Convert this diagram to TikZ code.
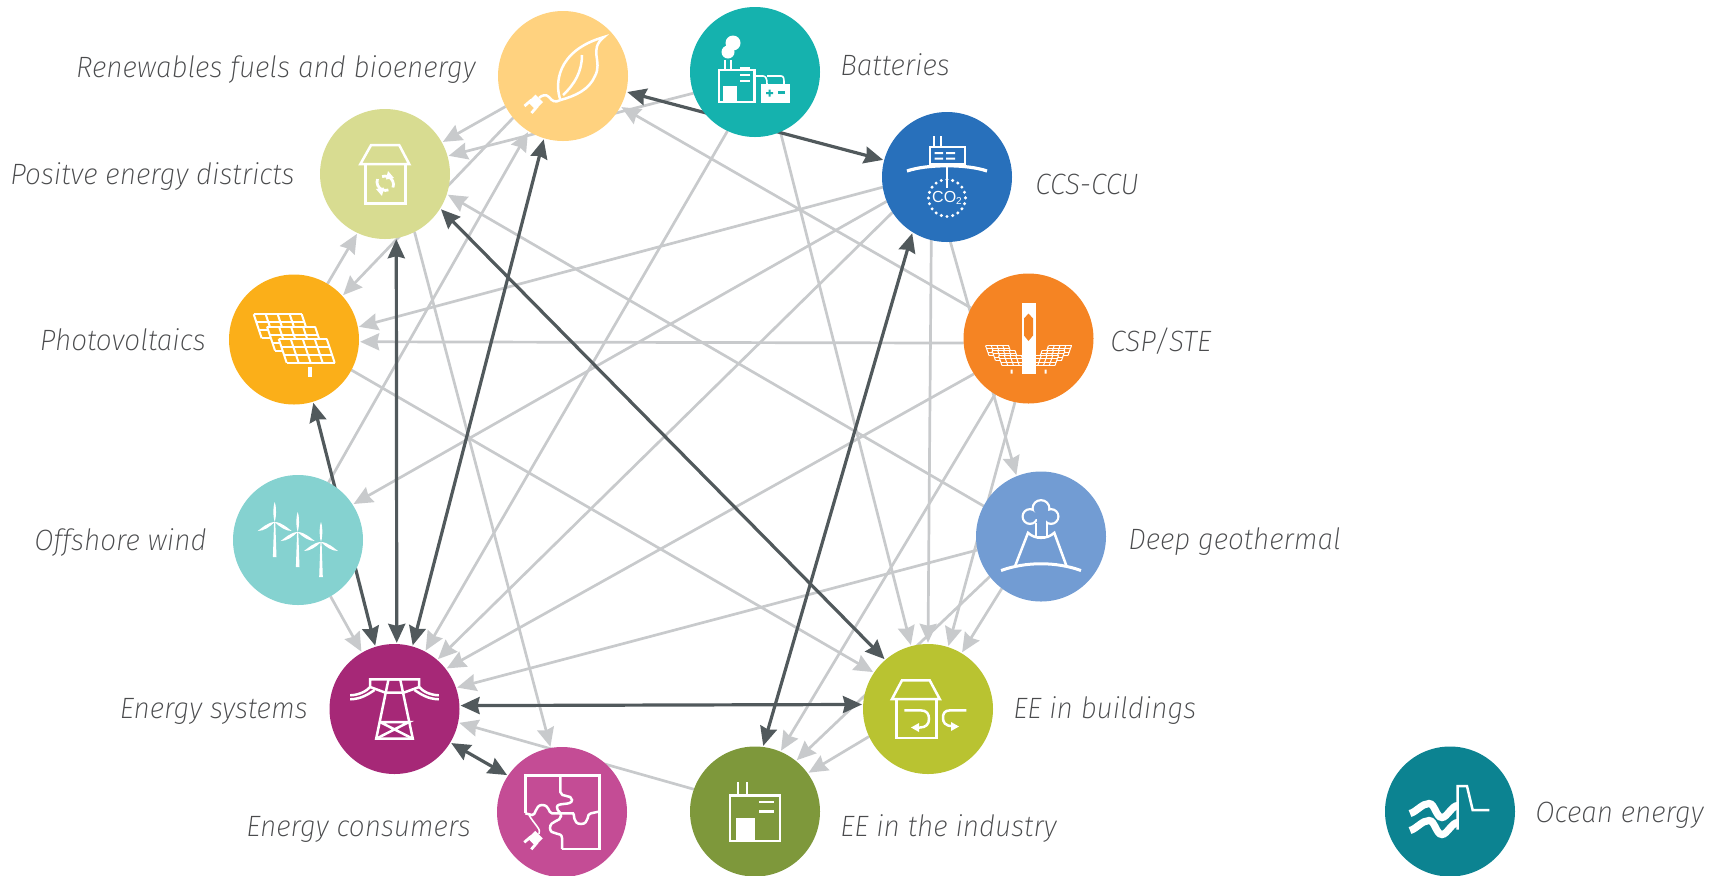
\documentclass[tikz,border=0pt]{standalone}
\usepackage{fontspec}
\usetikzlibrary{arrows.meta}
\newfontfamily\lblf[FakeStretch=0.95]{Fira Sans ExtraLight Italic}
\newfontfamily\arialf{Liberation Sans}
\definecolor{cren}{HTML}{FFD27F}
\definecolor{cbat}{HTML}{15B2AE}
\definecolor{cccs}{HTML}{2870BB}
\definecolor{ccsp}{HTML}{F58423}
\definecolor{cgeo}{HTML}{729CD3}
\definecolor{cbui}{HTML}{B9C331}
\definecolor{cind}{HTML}{7E983B}
\definecolor{ccon}{HTML}{C44C95}
\definecolor{ces}{HTML}{A62877}
\definecolor{coff}{HTML}{85D2D0}
\definecolor{cpv}{HTML}{FBAF19}
\definecolor{cpos}{HTML}{D8DC91}
\definecolor{coce}{HTML}{0C8391}
\definecolor{lngrey}{HTML}{C8CACC}
\definecolor{lndark}{HTML}{51595C}
\definecolor{txtc}{HTML}{4A4B4D}
\pgfdeclarelayer{bg}
\pgfsetlayers{bg,main}
\tikzset{
  hub/.style={circle,minimum size=65pt,inner sep=0pt,outer sep=0pt,draw=none},
  lblr/.style={anchor=east,text=txtc,inner sep=0pt,font=\lblf\fontsize{14.7}{16}\selectfont},
  lbll/.style={anchor=west,text=txtc,inner sep=0pt,font=\lblf\fontsize{14.7}{16}\selectfont},
  flow/.style={draw=lngrey,line width=1.35pt,shorten >=0.6pt,-{Stealth[length=9.5pt,width=8.5pt,inset=1pt]}},
  link/.style={draw=lndark,line width=1.6pt,shorten >=0.6pt,shorten <=0.6pt,{Stealth[length=9.5pt,width=8.5pt,inset=1pt]}-{Stealth[length=9.5pt,width=8.5pt,inset=1pt]}},
  ico/.style={draw=white,line width=1.25pt,line join=miter},
  icot/.style={draw=white,line width=0.8pt},
}
% x y w h skew fill linewidth
\newcommand{\solarpanel}[7]{%
  \fill[#6] (#1,#2) -- ({#1+#3},#2) -- ({#1+#3+#5},{#2+#4}) -- ({#1+#5},{#2+#4}) -- cycle;
  \foreach \i in {0,1,2,3,4}{\draw[white,line width=#7] ({#1+#3*\i/4},#2) -- ({#1+#3*\i/4+#5},{#2+#4});}
  \foreach \j in {0,1,2,3}{\draw[white,line width=#7] ({#1+#5*\j/3},{#2+#4*\j/3}) -- ({#1+#3+#5*\j/3},{#2+#4*\j/3});}
}
\newcommand{\windturbine}[2]{%
  \fill[white] ({#1-1.8},{#2+35}) -- ({#1-0.6},#2) -- ({#1+0.6},#2) -- ({#1+1.8},{#2+35}) -- cycle;
  \fill[white] (#1,#2) .. controls ({#1-2.4},{#2-8}) and ({#1-1},{#2-18}) .. (#1,{#2-20}) .. controls ({#1+1},{#2-18}) and ({#1+2.4},{#2-8}) .. (#1,#2) -- cycle;
  \fill[white] (#1,#2) .. controls ({#1-7},{#2+0}) and ({#1-14},{#2+7}) .. ({#1-17},{#2+9}) .. controls ({#1-11},{#2+9}) and ({#1-5},{#2+5}) .. (#1,#2) -- cycle;
  \fill[white] (#1,#2) .. controls ({#1+7},{#2+0}) and ({#1+14},{#2+7}) .. ({#1+17},{#2+9}) .. controls ({#1+11},{#2+9}) and ({#1+5},{#2+5}) .. (#1,#2) -- cycle;
}
\newcommand{\plugicon}[2]{%
  \fill[white] (#1,{#2-7.5}) -- ({#1+7.5},#2) -- (#1,{#2+7.5}) -- ({#1-7.5},#2) -- cycle;
  \draw[white,line width=1.4pt] ({#1-4},{#2-2}) -- ({#1-11},{#2+4});
  \draw[white,line width=1.4pt] ({#1+2},{#2+4}) -- ({#1-4},{#2+11});
}
\begin{document}
\begin{tikzpicture}[x=0.5pt,y=-0.5pt]
\useasboundingbox (0,0) rectangle (1725,875);
% hubs
\node[hub,fill=cren] (ren) at (563,76) {};
\node[hub,fill=cbat] (bat) at (755,72) {};
\node[hub,fill=cccs] (ccs) at (947,177) {};
\node[hub,fill=ccsp] (csp) at (1028.5,338.5) {};
\node[hub,fill=cgeo] (geo) at (1041,536.5) {};
\node[hub,fill=cbui] (bui) at (928,709) {};
\node[hub,fill=cind] (ind) at (755,811.5) {};
\node[hub,fill=ccon] (con) at (562,812) {};
\node[hub,fill=ces]  (es)  at (394.5,709) {};
\node[hub,fill=coff] (off) at (298,540) {};
\node[hub,fill=cpv]  (pv)  at (294,339.5) {};
\node[hub,fill=cpos] (pos) at (385,174) {};
\node[hub,fill=coce] (oce) at (1450,811.5) {};
% labels
\node[lblr] (tren) at (476,70) {Renewables fuels and bioenergy};
\node[lblr] (tpos) at (295,177) {Positve energy districts};
\node[lblr] (tpv)  at (206,340) {Photovoltaics};
\node[lblr] (toff) at (207,542) {Offshore wind};
\node[lblr] (tes)  at (308,711) {Energy systems};
\node[lblr] (tcon) at (471,829) {Energy consumers};
\node[lbll] (tbat) at (840,65) {Batteries};
\node[lbll] (tccs) at (1035,184) {CCS-CCU};
\node[lbll] (tcsp) at (1110,341) {CSP/STE};
\node[lbll] (tgeo) at (1128,542) {Deep geothermal};
\node[lbll] (tbui) at (1013,711) {EE in buildings};
\node[lbll] (tind) at (840,829) {EE in the industry};
\node[lbll] (toce) at (1535,815) {Ocean energy};
% connectors
\begin{pgfonlayer}{bg}
\draw[flow] (bat.-161) -- (pos.16);
\draw[flow] (bat.-115.5) -- (es.62.3);
\draw[flow] (ccs.-147) -- (es.49.5);
\draw[flow] (csp.-147.9) -- (es.38);
\draw[flow] (geo.-168) -- (es.19);
\draw[flow] (off.-60.7) -- (es.120);
\draw[flow] (ind.160) -- (es.-12.4);
\draw[flow] (pos.-63.4) -- (con.100);
\draw[flow] (ren.-152.7) -- (pos.29);
\draw[flow] (ren.-140) -- (pv.42);
\draw[flow] (pv.59) -- (pos.-115.6);
\draw[flow] (off.62) -- (ren.-122.5);
\draw[flow] (ccs.-171) -- (pv.11.5);
\draw[flow] (csp.-176.6) -- (pv.-2.5);
\draw[flow] (ccs.-158.7) -- (off.33.3);
\draw[flow] (ccs.-104) -- (bui.90);
\draw[flow] (ccs.-87.4) -- (geo.112);
\draw[flow] (bat.-67) -- (bui.105.7);
\draw[flow] (csp.152.3) -- (ren.-28.9);
\draw[flow] (geo.152.8) -- (pos.-18.9);
\draw[flow] (pv.-28.7) -- (bui.146.5);
\draw[flow] (csp.-102) -- (bui.72.6);
\draw[flow] (csp.-121.6) -- (ind.67.9);
\draw[flow] (geo.-127.5) -- (bui.59.5);
\draw[flow] (geo.-142.8) -- (ind.51.3);
\draw[flow] (bui.-155.7) -- (ind.36);
\draw[link] (ren.-14) -- (ccs.165);
\draw[link] (ren.-107.6) -- (es.74);
\draw[link] (pos.-80) -- (es.88);
\draw[link] (pos.-32.4) -- (bui.131);
\draw[link] (pv.-73) -- (es.107);
\draw[link] (ccs.-122) -- (ind.83);
\draw[link] (es.3.5) -- (bui.176.5);
\draw[link] (es.-31) -- (con.146.5);
\end{pgfonlayer}
% --- icons ---
% renewables
\begin{scope}[shift={(ren.center)}]
\draw[ico] (-2.5,24) .. controls (-8,10) and (-8,-25) .. (41,-39) .. controls (25,-26) and (40,-15) .. (32,0) .. controls (26,14) and (12,20) .. (-2.5,24);
\draw[ico] (19,-21) .. controls (19,-5) and (12,8) .. (0,19);
\draw[ico] (-2.5,24) .. controls (-8,27) and (-11,25) .. (-14,21) .. controls (-17,18) and (-21,19) .. (-24,22);
\plugicon{-27.5}{26}
\end{scope}
% batteries
\begin{scope}[shift={(bat.center)}]
\draw[ico] (-36,-2) rectangle (-0.5,30);
\fill[white] (-32,14) rectangle (-18,30);
\fill[white] (-15.5,-5) rectangle (-5,-3);
\fill[white] (-15.5,8) rectangle (-5,10);
\fill[white] (-15.5,1.5) rectangle (-5,3.5);
\draw[ico] (-30,-12) -- (-30,-2) (-24,-12) -- (-24,-2);
\fill[white] (-22,-29) circle (7.5);
\fill[white] (-27,-20) circle (6.5);
\fill[white] (6,12) rectangle (35,31);
\draw[icot] (0,4) -- (8,4) .. controls (11,4) and (12,7) .. (12,12);
\draw[icot] (12,4) -- (26,4) .. controls (29,4) and (29,7) .. (29,12);
\fill[cbat] (11,20.2) rectangle (18,22.2) (13.5,17.7) rectangle (15.5,24.7);
\fill[cbat] (23,19) rectangle (30,21.5);
\end{scope}
% ccs
\begin{scope}[shift={(ccs.center)}]
\draw[ico] (-17,-13) rectangle (18,-30);
\draw[ico] (-13,-30) -- (-13,-41) (-6,-30) -- (-6,-41);
\fill[white] (-12.5,-25) rectangle (-4,-23) (-1,-25) rectangle (8,-23);
\fill[white] (-12.5,-19.5) rectangle (-4,-17.5) (-1,-19.5) rectangle (8,-17.5);
\draw[white,line width=1.6pt] (-40,-6) .. controls (-20,-13) and (20,-13) .. (40,-6);
\draw[icot] (0,-12) -- (0,11);
\draw[white,line width=1.7pt,line cap=round,dash pattern=on 0pt off 2.9pt] (0,21) circle (18.5);
\node[text=white,inner sep=0pt,font=\arialf\fontsize{8}{8}\selectfont] (co2) at (0,21) {CO\raisebox{-0.25ex}{\fontsize{5}{5}\selectfont 2}};
\end{scope}
% csp
\begin{scope}[shift={(csp.center)}]
\solarpanel{-43}{7}{23}{10}{3.5}{ccsp}{0.5pt}
\solarpanel{-36.5}{12}{23}{10}{3.5}{ccsp}{0.5pt}
\solarpanel{-30}{17}{23}{10}{3.5}{ccsp}{0.5pt}
\solarpanel{20}{7}{23}{10}{-3.5}{ccsp}{0.5pt}
\solarpanel{13.5}{12}{23}{10}{-3.5}{ccsp}{0.5pt}
\solarpanel{7}{17}{23}{10}{-3.5}{ccsp}{0.5pt}
\fill[white] (-7,-36) rectangle (7,35);
\fill[ccsp] (0,-25) -- (4.5,-20) -- (4.5,-3) -- (0,2.5) -- (-4.5,-3) -- (-4.5,-20) -- cycle;
\fill[white] (-18,31) rectangle (-16,35) (16,31) rectangle (18,35);
\end{scope}
% geothermal
\begin{scope}[shift={(geo.center)}]
\draw[white,line width=1.5pt] (-40,34) .. controls (-15,25) and (15,25) .. (40,34);
\draw[ico] (-25.7,29) -- (-13,-3.7) .. controls (-6,3) and (6,3) .. (13.3,-3.7) -- (25.3,29);
\fill[white] (-11,-20) circle (8.5) (0,-28) circle (9.5) (10,-20) circle (8.5);
\fill[white] (-6.5,-14) rectangle (7,0);
\fill[cgeo] (-11,-20) circle (6.2) (0,-28) circle (7.2) (10,-20) circle (6.2);
\fill[cgeo] (-4.5,-20) rectangle (5,-0.5);
\fill[cgeo] (-7,-24) rectangle (7,-18);
\end{scope}
% buildings
\begin{scope}[shift={(bui.center)}]
\draw[ico] (-36,-10) -- (-26,-28.7) -- (1.7,-28.7) -- (11.7,-10) -- cycle;
\draw[ico] (-31.7,-10) -- (-31.7,29) -- (8.3,29) -- (8.3,-10);
\draw[ico] (-23.7,1.3) -- (-7.7,1.3) .. controls (-1,1.3) and (1,5) .. (1,10) .. controls (1,15) and (-2,18.5) .. (-8,18.5) -- (-12,18.5);
\fill[white] (-17,18.5) -- (-9,14) -- (-9,23) -- cycle;
\draw[ico] (38.3,1.3) -- (22.3,1.3) .. controls (16,1.3) and (15,5) .. (15,9) .. controls (15,13) and (17,17) .. (24,17);
\fill[white] (31,17.5) -- (23,13) -- (23,22) -- cycle;
\end{scope}
% industry
\begin{scope}[shift={(ind.center)}]
\draw[ico] (-25,-16) rectangle (25,29.5);
\draw[ico] (-17,-16) -- (-17,-30) (-8,-16) -- (-8,-30);
\fill[white] (-19,6) rectangle (0,29.5);
\fill[white] (4,-11) rectangle (18.5,-8.5);
\fill[white] (4,-1.3) rectangle (18.5,1.3);
\end{scope}
% consumers
\begin{scope}[shift={(con.center)}]
\draw[ico] (-36.7,1.3) -- (-36.7,-36.3) -- (37.3,-36.3) -- (37.3,37) -- (0,37);
\draw[ico] (-1.7,-36.3) -- (-1.7,-20) .. controls (-1,-14) and (10,-18) .. (10,-12) .. controls (10,-6) and (-5,-10) .. (-5,-5) .. controls (-5,0) and (-1,-1) .. (-1,4) .. controls (-1,10) and (-12,8) .. (-12,16) .. controls (-12,24) and (0,19) .. (0,26) -- (0,37);
\draw[ico] (-36.7,1.3) -- (-30,3) .. controls (-26,4) and (-27,-7) .. (-20,-7) .. controls (-12,-7) and (-14,1) .. (-10,1.3) -- (11,1.3) .. controls (13,1) and (10,12) .. (19,12) .. controls (28,12) and (24,1) .. (29,1.3) -- (37.3,-0.5);
\draw[icot] (-33,3) .. controls (-28,12) and (-20,18) .. (-23,22);
\plugicon{-26.7}{26.3}
\end{scope}
% energy systems
\begin{scope}[shift={(es.center)}]
\draw[ico] (-18.3,29.7) -- (18.3,29.7) -- (5.7,-29.7) -- (-6,-29.7) -- cycle;
\draw[ico] (-24.3,-22) -- (-24.3,-29.7) -- (24.7,-29.7) -- (24.7,-22) -- (9,-16.3) -- (-9,-16.3) -- cycle;
\draw[ico] (-14.5,13) -- (14.5,13) -- (-18.3,29.7) (-14.5,13) -- (18.3,29.7);
\draw[ico] (-44.3,-13.7) .. controls (-35,-14) and (-28,-18) .. (-24.3,-22);
\draw[ico] (-44.3,-9.7) .. controls (-33,-10) and (-26,-15) .. (-20,-19);
\draw[ico] (44.3,-13.7) .. controls (35,-14) and (28,-18) .. (24.7,-22);
\draw[ico] (44.3,-9.7) .. controls (33,-10) and (26,-15) .. (20,-19);
\end{scope}
% offshore wind
\begin{scope}[shift={(off.center)}]
\windturbine{-23.3}{-18}
\windturbine{-0.3}{-8}
\windturbine{23}{2}
\end{scope}
% photovoltaics
\begin{scope}[shift={(pv.center)}]
\solarpanel{-40.3}{-25.3}{48}{24}{8}{cpv}{1pt}
\solarpanel{-27}{-13}{48}{24}{8}{cpv}{1pt}
\solarpanel{-15.3}{-0.7}{48}{24}{8}{cpv}{1pt}
\fill[white] (14.3,27.3) rectangle (18.3,37.3);
\end{scope}
% positive districts
\begin{scope}[shift={(pos.center)}]
\draw[ico] (-24.7,-9.8) -- (-14,-28.8) -- (14.3,-28.8) -- (24.3,-9.8) -- cycle;
\draw[ico] (-19.7,-9.8) -- (-19.7,29.5) -- (20.3,29.5) -- (20.3,-9.8);
\draw[white,line width=1.4pt] (-7.5,5) arc (200:70:8.5);
\draw[white,line width=1.4pt] (8,13.5) arc (20:-110:8.5);
\fill[white] (3,-3) -- (9,4) -- (1,5.5) -- cycle;
\fill[white] (-3,22) -- (-9,15) -- (-1,13.5) -- cycle;
\end{scope}
% ocean
\begin{scope}[shift={(oce.center)}]
\draw[white,line width=3.6pt] (-40,2) .. controls (-33,0) and (-28,-8) .. (-21,-8) .. controls (-15,-8) and (-14,6) .. (-8,6) .. controls (-3,6) and (2,-6) .. (7.7,-6);
\draw[white,line width=3.6pt] (-40,19) .. controls (-33,17) and (-28,9) .. (-21,9) .. controls (-15,9) and (-14,23) .. (-8,23) .. controls (-3,23) and (2,11) .. (7.7,11);
\draw[ico] (7.7,18) -- (7.7,-25.3) -- (17,-25.3) -- (22.7,-1.3) -- (39.3,-1.3);
\end{scope}
\end{tikzpicture}
\end{document}
